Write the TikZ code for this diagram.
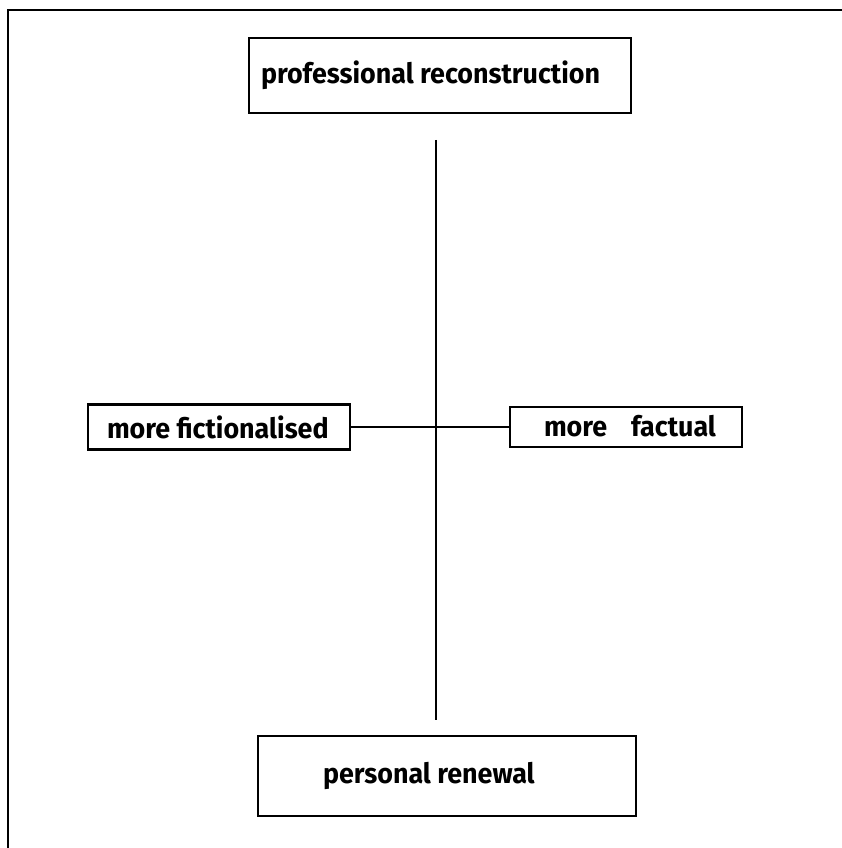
\documentclass[tikz,border=0pt]{standalone}
\usepackage{fontspec}
\setmainfont{Fira Sans}[FakeStretch=0.96]
\begin{document}
\begin{tikzpicture}[x=1pt,y=1pt,
  box/.style={draw, line width=2.4pt, inner ysep=0pt, font=\fontsize{28}{30}\selectfont\bfseries},
  conn/.style={line width=2.4pt}]
\useasboundingbox (0,0) rectangle (842,848);
\draw[line width=2.4pt] (842,838) -- (8,838) -- (8,0);
\node[box, inner xsep=12pt, minimum height=75pt] (top) at (440,772.5)
  {\makebox[358pt][l]{professional reconstruction}};
\node[box, inner xsep=19pt, minimum height=45pt] (left) at (219,421)
  {\makebox[224pt][l]{more fictionalised}};
\node[box, inner xsep=34pt, minimum height=40pt] (right) at (626,421)
  {\makebox[164pt][l]{\raisebox{3pt}{more\hspace{24pt}factual}}};
\node[box, inner xsep=65pt, minimum height=80pt] (bottom) at (447,72)
  {\makebox[248pt][l]{personal renewal}};
\coordinate (vt) at (436,708);
\coordinate (vb) at (436,128);
\draw[conn] (vt) -- (vb);
\draw[conn] (left.east) -- (right.west);
\end{tikzpicture}
\end{document}
